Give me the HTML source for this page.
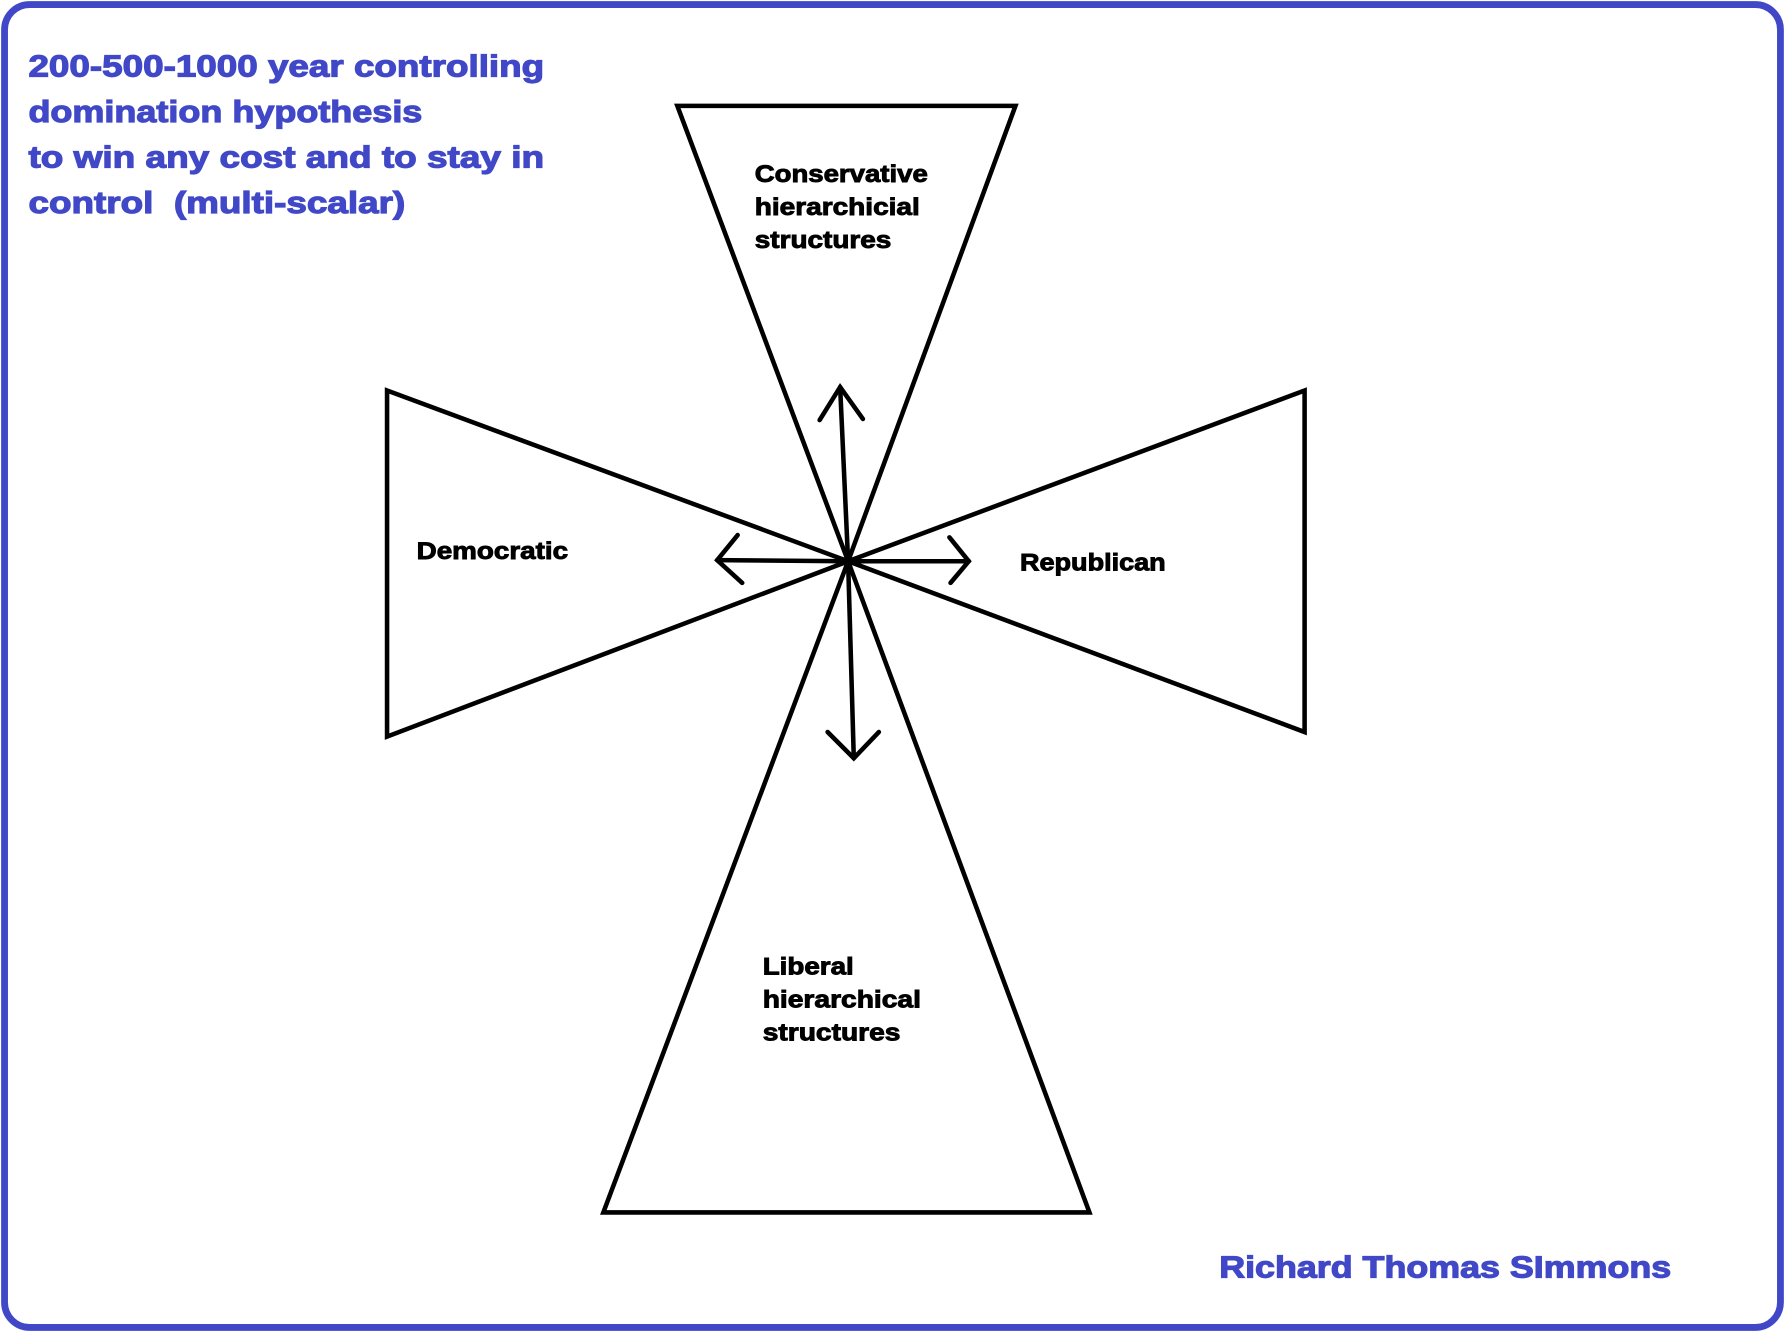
<!DOCTYPE html>
<html><head><meta charset="utf-8"><style>
html,body{margin:0;padding:0;background:#fff;}
svg{display:block;}
text{font-family:"Liberation Sans",Arial,sans-serif;font-weight:bold;}
</style></head><body>
<svg width="1785" height="1332" viewBox="0 0 1568 1170" preserveAspectRatio="none" xmlns="http://www.w3.org/2000/svg">
<rect x="0" y="0" width="1568" height="1170" fill="#fff"/>
<rect x="4" y="4" width="1560" height="1162" rx="22" ry="22" fill="none" stroke="#4048c8" stroke-width="6"/>
<g fill="none" stroke="#000" stroke-width="4" stroke-linejoin="miter" stroke-linecap="round">
<polygon points="595,93 892,93 745,493"/>
<polygon points="340,343 340,647 745,493"/>
<polygon points="1146,343 1146,643 745,493"/>
<polygon points="530,1065 957,1065 745,493"/>
<line x1="745" y1="493" x2="738" y2="340"/>
<polyline points="720,369 738,340 758,368"/>
<line x1="745" y1="493" x2="630" y2="492"/>
<polyline points="648,470 630,492 652,512"/>
<line x1="745" y1="493" x2="851" y2="493"/>
<polyline points="834,472 851,493 835,512"/>
<line x1="745" y1="493" x2="750" y2="666"/>
<polyline points="727,643 750,666 772,643"/>
</g>
<circle cx="745" cy="493" r="4.5" fill="#000"/>
<g fill="#000" stroke="#000" stroke-width="0.8" font-size="21">
<text x="663" y="160" textLength="152" lengthAdjust="spacingAndGlyphs">Conservative</text>
<text x="663" y="189" textLength="145" lengthAdjust="spacingAndGlyphs">hierarchicial</text>
<text x="663" y="218" textLength="120" lengthAdjust="spacingAndGlyphs">structures</text>
<text x="366" y="491" textLength="133" lengthAdjust="spacingAndGlyphs">Democratic</text>
<text x="896" y="501" textLength="128" lengthAdjust="spacingAndGlyphs">Republican</text>
<text x="670" y="856" textLength="80" lengthAdjust="spacingAndGlyphs">Liberal</text>
<text x="670" y="885" textLength="139" lengthAdjust="spacingAndGlyphs">hierarchical</text>
<text x="670" y="914" textLength="121" lengthAdjust="spacingAndGlyphs">structures</text>
</g>
<g fill="#4048c8" stroke="#4048c8" stroke-width="1" font-size="27">
<text x="25" y="67" textLength="453" lengthAdjust="spacingAndGlyphs">200-500-1000 year controlling</text>
<text x="25" y="107" textLength="346" lengthAdjust="spacingAndGlyphs">domination hypothesis</text>
<text x="25" y="147" textLength="453" lengthAdjust="spacingAndGlyphs">to win any cost and to stay in</text>
<text x="25" y="187" textLength="331" lengthAdjust="spacingAndGlyphs">control&#160; (multi-scalar)</text>
<text x="1071" y="1122" textLength="397" lengthAdjust="spacingAndGlyphs">Richard Thomas SImmons</text>
</g>
</svg>
</body></html>
